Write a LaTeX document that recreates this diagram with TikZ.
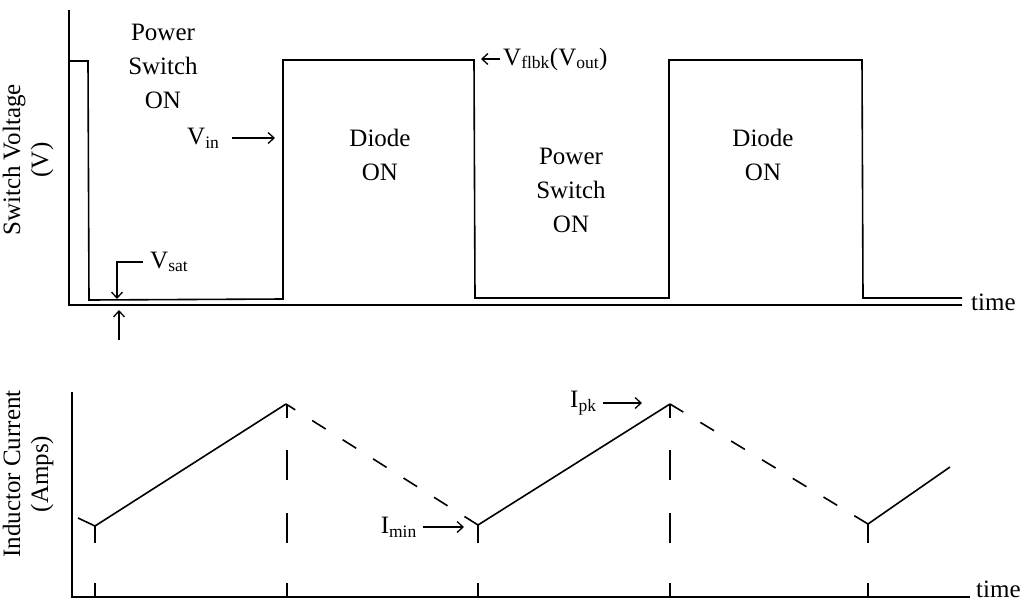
\documentclass[tikz,border=0pt]{standalone}
\usepackage{fontspec}
\setmainfont{Liberation Serif}
\usetikzlibrary{arrows.meta}

\begin{document}
\begin{tikzpicture}[x=1pt,y=-1pt]

\tikzset{axis/.style = {line width=1.5pt}}
\tikzset{wave/.style = {line width=1.6pt}}
\tikzset{dashwave/.style = {wave, dash pattern=on 16pt off 20pt}}
\tikzset{marker/.style = {line width=1.3pt, dash pattern=on 14pt off 40pt on 30pt off 33pt on 30pt off 32pt on 14pt off 200pt}}
\tikzset{edge/.style = {-{Straight Barb[length=6pt,width=11pt]}, line width=1.3pt}}
\tikzset{lbl/.style = {font=\fontsize{25}{34}\selectfont, align=center, inner sep=0pt}}
\tikzset{ylbl/.style = {font=\fontsize{25}{28}\selectfont, align=center, inner sep=0pt, rotate=90}}
\useasboundingbox (0,0) rectangle (1023,603);

% axes
\draw[axis] (69,10) -- (69,305) -- (962,305);
\draw[axis] (72,392) -- (72,597) -- (970,597);
\node[lbl, anchor=west] (t1) at (971,302) {time};
\node[lbl, anchor=west] (t2) at (976,589) {time};
\node[ylbl] (yv) at (28,160) {Switch Voltage\\(V)};
\node[ylbl] (yi) at (28,474) {Inductor Current\\(Amps)};

% switch voltage
\draw[wave] (70,61) -- (88,61) -- (89,300) -- (283,299) -- (283,60) -- (474,60)
  -- (475,298) -- (669,298) -- (669,60) -- (862,60) -- (863,298) -- (962,298);

% regions
\node[lbl] (ps1) at (163,66) {Power\\Switch\\ON};
\node[lbl] (d1) at (380,155) {Diode\\ON};
\node[lbl] (ps2) at (571,190) {Power\\Switch\\ON};
\node[lbl] (d2) at (763,155) {Diode\\ON};

% voltage labels
\node[lbl, anchor=west] (vin) at (187,138) {V\textsubscript{in}};
\coordinate (vintip) at (275,138);
\draw[edge] ([xshift=12pt]vin.east) -- (vintip);

\node[lbl, anchor=west] (vfl) at (503,59) {V\textsubscript{flbk}(V\textsubscript{out})};
\coordinate (vfltip) at (481,59);
\draw[edge] ([xshift=-3pt]vfl.west) -- (vfltip);

\node[lbl, anchor=west] (vsat) at (150,262) {V\textsubscript{sat}};
\coordinate (sattip) at (117,299);
\draw[edge] ([xshift=-7pt]vsat.west) -| (sattip);
\coordinate (satbase) at (119,340);
\coordinate (sattip2) at (119,310);
\draw[edge] (satbase) -- (sattip2);

% inductor current
\draw[wave] (78,518) -- (95,526) -- (286,404);
\draw[dashwave] (478,525) -- (286,404);
\draw[wave] (478,525) -- (670,404);
\draw[dashwave] (868,524) -- (670,404);
\draw[wave] (868,524) -- (950,467);

% markers
\foreach \x/\y in {95/526, 287/404, 478/525, 670/404, 868/524}
  \draw[marker] (\x,597) -- (\x,\y);

% current labels
\node[lbl, anchor=east] (imin) at (417,527) {I\textsubscript{min}};
\coordinate (mintip) at (464,527);
\draw[edge] ([xshift=6pt]imin.east) -- (mintip);

\node[lbl, anchor=west] (ipk) at (570,403) {I\textsubscript{pk}};
\coordinate (pktip) at (642,403);
\draw[edge] ([xshift=6pt]ipk.east) -- (pktip);

\end{tikzpicture}
\end{document}
